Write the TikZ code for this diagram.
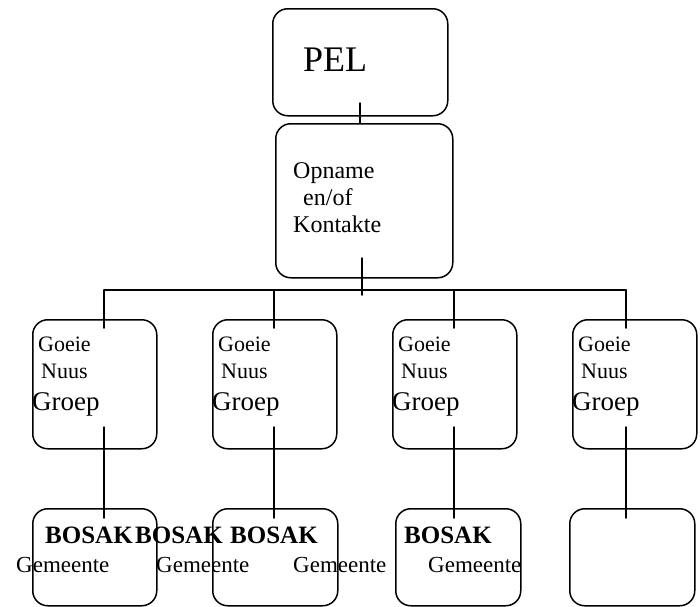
\documentclass[tikz,border=0pt]{standalone}
\usepackage{fontspec}
\setmainfont{Liberation Serif}
\newcommand{\fsz}[1]{\fontsize{#1}{#1}\selectfont}

\begin{document}
\begin{tikzpicture}[x=1pt, y=-1pt, line cap = round, line join = round,
    blok/.style={draw, line width=1.5pt, rounded corners=15pt, anchor=north west, inner sep=0pt, minimum width=124pt},
    txt/.style={anchor=base west, inner sep=0pt},
    lyn/.style={line width=1.5pt}]
		\useasboundingbox (0,0) rectangle (700,606);

		% PEL
		\node [blok, minimum width=175pt, minimum height=107pt] (pel) at (272,8) {};
		\node [txt] (peltxt) at (303,71) {\fsz{36}PEL};
		\coordinate (pelstub) at (360,103);

		% Opname en/of Kontakte
		\node [blok, minimum width=177pt, minimum height=154pt] (opn) at (275,123) {};
		\node [txt] (opn1) at (293,178) {\fsz{24}Opname};
		\node [txt] (opn2) at (303,205) {\fsz{24}en/of};
		\node [txt] (opn3) at (293,232) {\fsz{24}Kontakte};
		\coordinate (opnstub) at (362,258);
		\coordinate (opnend) at (362,295);
		\draw [lyn] (pelstub) -- (pelstub |- opn.north);
		\draw [lyn] (opnstub) -- (opnend);

		% bus line
		\coordinate (busl) at (104,290);
		\coordinate (busr) at (626,290);
		\draw [lyn] (busl) -- (busr);

		% Goeie Nuus Groep and bottom boxes
		\foreach \i/\gx/\bx/\bw/\cx in {1/32/32/124/104, 2/212/212/125/274, 3/392/395/125/454, 4/572/569/125/626}{
			\node [blok, minimum height=129pt] (g\i) at (\gx,319) {};
			\node [blok, minimum width=\bw pt, minimum height=97pt] (b\i) at (\bx,508) {};
			\node [txt] (goeie\i) at (\gx+6,351) {\fsz{22}Goeie};
			\node [txt] (nuus\i) at (\gx+9,378) {\fsz{22}Nuus};
			\node [txt] (groep\i) at (\gx,410) {\fsz{27}Groep};
			\coordinate (top\i) at (\cx,328);
			\coordinate (mid\i) at (\cx,427);
			\coordinate (bot\i) at (\cx,518);
			\draw [lyn] (top\i |- busl) -- (top\i);
			\draw [lyn] (mid\i) -- (bot\i);
		}

		% BOSAK Gemeente
		\foreach \i/\bx/\gmx in {1/45/16, 2/135/156, 3/230/293, 4/404/428}{
			\node [txt] (bosak\i) at (\bx,543) {\fsz{25}\bfseries BOSAK};
			\node [txt] (gem\i) at (\gmx,572) {\fsz{23}Gemeente};
		}
	\end{tikzpicture}
\end{document}
